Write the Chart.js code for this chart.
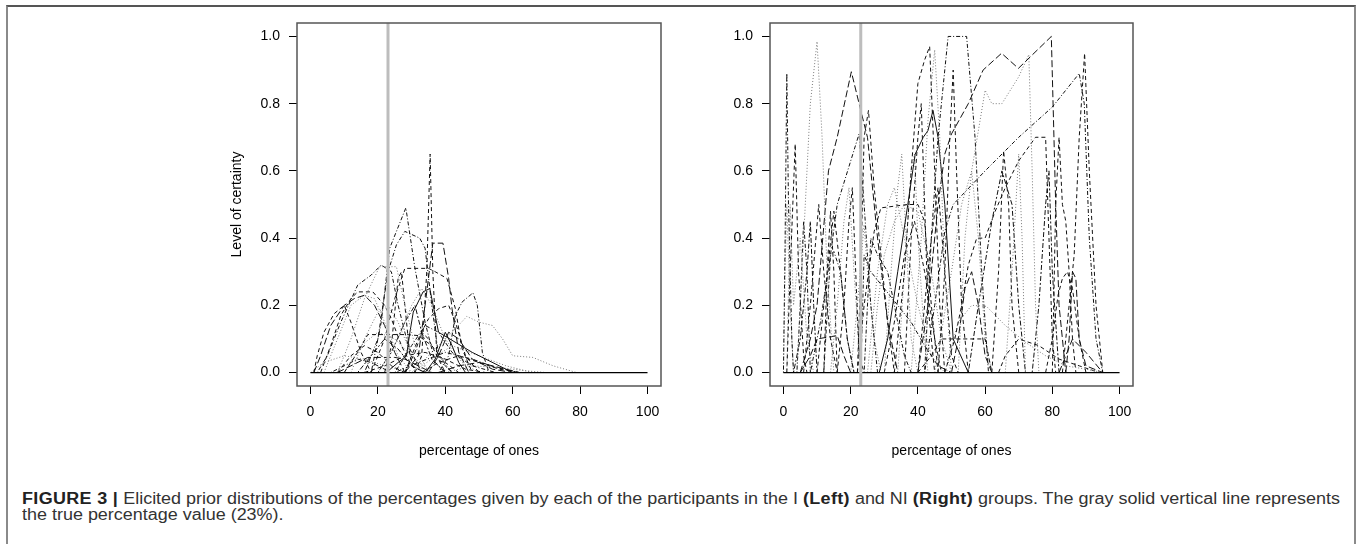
<!DOCTYPE html>
<html>
<head>
<meta charset="utf-8">
<script src="https://cdn.jsdelivr.net/npm/chart.js@4/dist/chart.umd.min.js"></script>
<style>
  html, body { margin: 0; padding: 0; background: #fff; }
  body { width: 1357px; height: 544px; position: relative; overflow: hidden; font-family: "Liberation Sans", Arial, sans-serif; }
  #frame { position: absolute; left: 6px; top: 5px; width: 1346px; height: 600px;
           border-left: 2px solid #8a8a8a; border-right: 2px solid #8a8a8a; border-top: 2px solid #555; }
  #left { position: absolute; left: 200px; top: 0; }
  #right { position: absolute; left: 673px; top: 0; }
  #caption { position: absolute; left: 22px; top: 491px; font-size: 16px; line-height: 16px; color: #333; white-space: nowrap; }
  #caption .line { display: inline-block; transform-origin: 0 0; }
  #caption b { color: #222; letter-spacing: 0.3px; }
</style>
</head>
<body>
<div id="frame"></div>
<canvas id="left" width="470" height="470"></canvas>
<canvas id="right" width="469" height="470"></canvas>
<div id="caption">
  <div><span class="line" id="cap1"><b>FIGURE 3 |</b> Elicited prior distributions of the percentages given by each of the participants in the I <b>(Left)</b> and NI <b>(Right)</b> groups. The gray solid vertical line represents</span></div>
  <div><span class="line" id="cap2">the true percentage value (23%).</span></div>
</div>
<script>
const xTicks = [0, 20, 40, 60, 80, 100]
const yTicks = [0, 0.2, 0.4, 0.6, 0.8, 1.0]
const trueValue = 23
const baseline = [[0, 0], [100, 0]]

// I group (left panel): each curve is a list of [percentage, certainty]
const leftCurves = [
    [[31,0],[33,0.05],[34.5,0.3],[35.5,0.65],[36.3,0.3],[37.5,0.05],[40,0]],
    [[18,0],[21,0.15],[23.5,0.37],[28.3,0.49],[31,0.31],[34,0.15],[37,0.03],[40,0]],
    [[16,0],[20,0.1],[23,0.3],[25.5,0.38],[28,0.42],[32.4,0.4],[34,0.37],[36,0.2],[38,0.05],[42,0]],
    [[28,0],[32,0.05],[34,0.2],[36.3,0.385],[39.3,0.385],[41,0.28],[42,0.19],[44,0.06],[47,0]],
    [[8,0],[12,0.1],[16,0.22],[20.5,0.315],[25.5,0.315],[28,0.2],[31,0.08],[35,0]],
    [[18,0],[22,0.1],[25,0.22],[28,0.31],[35,0.31],[37,0.3],[40.5,0.28],[43,0.19],[45,0.07],[48,0]],
    [[3,0],[6,0.08],[9,0.17],[12,0.22],[14,0.24],[18.5,0.24],[22,0.2],[24,0.16],[27,0.08],[30,0.02],[34,0]],
    [[1,0],[3,0.05],[6,0.14],[10,0.2],[13,0.22],[16,0.23],[19,0.2],[22,0.14],[25,0.06],[28,0]],
    [[1,0],[2,0.05],[4,0.12],[7,0.175],[10,0.2],[12,0.15],[15,0.06],[18,0]],
    [[22.5,0],[26,0.03],[28.5,0.05],[29.5,0.12],[30.5,0.18],[33.4,0.24],[35.4,0.25],[38,0.12],[48,0.06],[56,0.02],[60,0]],
    [[34,0],[37,0.04],[40,0.12],[42,0.08],[44,0.03],[46,0]],
    [[38,0],[41,0.05],[43,0.17],[45,0.21],[48.2,0.237],[49.5,0.2],[51,0.06],[53,0]],
    [[30,0],[36,0.06],[42,0.12],[46.4,0.167],[50,0.15],[54,0.14],[57,0.1],[60,0.05],[66,0.045],[72,0.02],[79,0]],
    [[10,0],[14,0.06],[17,0.113],[28.5,0.113],[32,0.11],[36,0.08],[40,0.03],[44,0]],
    [[8,0],[12,0.02],[17,0.045],[25,0.045],[28,0.04],[32,0.02],[36,0]],
    [[2,0],[5,0.05],[9,0.15],[14,0.26],[18,0.29],[21,0.32],[24,0.3],[26,0.2],[29,0.08],[33,0]],
    [[4,0],[8,0.1],[12,0.2],[16,0.23],[19,0.22],[22,0.15],[26,0.05],[30,0]],
    [[25,0],[30,0.08],[34,0.14],[38,0.12],[42,0.06],[48,0.02],[55,0]],
    [[28,0],[32,0.1],[35,0.16],[38,0.19],[41,0.2],[43,0.15],[46,0.05],[50,0]],
    [[20,0],[26,0.1],[30,0.2],[33,0.25],[36,0.2],[40,0.1],[45,0.03],[50,0]],
    [[35,0],[38,0.05],[41,0.12],[44,0.1],[48,0.04],[54,0.01],[60,0]],
    [[8,0],[12,0.05],[16,0.08],[20,0.06],[24,0.02],[28,0]],
    [[25,0],[32,0.03],[40,0.06],[48,0.04],[55,0.015],[62,0]],
    [[14,0],[18,0.05],[22,0.1],[26,0.07],[30,0.02],[34,0]],
    [[30,0],[36,0.04],[42,0.08],[50,0.05],[58,0.02],[66,0]],
    [[33,0],[38,0.03],[44,0.05],[50,0.03],[56,0.01],[62,0]],
    [[22,0],[24,0.08],[26,0.28],[27,0.3],[28,0.2],[29.5,0.05],[31,0]],
    [[20,0],[24,0.06],[28,0.15],[31,0.2],[33,0.12],[36,0.04],[40,0]],
    [[10,0],[15,0.08],[20,0.12],[25,0.1],[30,0.05],[36,0]],
    [[0,0],[4,0.03],[10,0.05],[16,0.04],[22,0.02],[30,0]],
    [[16,0],[22,0.02],[28,0.05],[34,0.06],[40,0.04],[46,0.01],[52,0]],
    [[38,0],[44,0.02],[50,0.03],[56,0.015],[62,0]],
    [[6,0],[10,0.02],[14,0.04],[18,0.03],[24,0]],
    [[40,0],[48,0.02],[56,0.015],[64,0.005],[70,0]],
    [[28,0],[31,0.06],[33,0.12],[35,0.1],[38,0.04],[42,0]],
    [[12,0],[16,0.1],[20,0.18],[23,0.2],[26,0.15],[30,0.05],[34,0]]
]
const leftStyles = ['dash','dotdash','dotdash','longdash','dot','dash','dash','longdash','dash','solid',
    'solid','dotdash','dot','dash','longdash','dotdash','dot','dotdash','dash','dot',
    'longdash','dash','dotdash','twodash','dot','dash','dash','twodash','dot','dot',
    'dash','longdash','dotdash','dot','dash','dot']

// NI group (right panel)
const rightCurves = [
    [[0,0],[0.5,0.4],[1,0.89],[1.5,0.5],[2.5,0.1],[3,0]],
    [[1,0],[2,0.3],[3.5,0.68],[4.5,0.3],[6,0.05],[7,0]],
    [[4,0],[6,0.4],[8,0.8],[10,0.985],[11.5,0.7],[13,0.3],[15,0]],
    [[5,0],[8,0.1],[10,0.2],[13.4,0.6],[16,0.7],[20.2,0.895],[23,0.78],[25,0.7],[28,0.4],[31,0.15],[34,0]],
    [[8,0],[11,0.15],[14,0.35],[16,0.5],[22.5,0.71],[24,0.5],[26,0.2],[28,0]],
    [[22,0],[23,0.3],[24,0.7],[25.3,0.78],[27,0.55],[29,0.35],[31,0.15],[33,0]],
    [[16,0],[18,0.2],[19.5,0.45],[20.5,0.55],[21.5,0.3],[22.5,0.05],[24,0]],
    [[1,0],[2,0.5],[3,0.2],[5,0.4],[7,0.1],[9,0]],
    [[6,0],[8,0.2],[10.5,0.5],[12,0.3],[14,0.1],[16,0]],
    [[10,0],[12,0.2],[15,0.48],[17,0.3],[19,0.1],[21,0]],
    [[5,0],[8,0.05],[10,0.1],[16,0.11],[18,0.05],[20,0]],
    [[33,0],[36,0.3],[38,0.6],[40,0.86],[42,0.93],[43.5,0.97],[45,0.6],[46.5,0.2],[48,0]],
    [[38,0],[41,0.4],[43,0.75],[45,0.96],[46.5,0.7],[48,0.3],[50,0]],
    [[42,0],[44,0.4],[46,0.7],[49,1],[54.5,1],[57,0.7],[59,0.3],[61,0]],
    [[28.5,0],[31,0.1],[34,0.3],[37,0.5],[39.2,0.65],[41.6,0.7],[43,0.72],[44.5,0.78],[46,0.7],[48,0.5],[50.5,0.1],[55,0]],
    [[40,0],[43,0.2],[46,0.5],[48,0.65],[50,0.71],[55,0.8],[59.4,0.9],[64.9,0.95],[69.9,0.905],[79.7,1],[81,0.5],[82,0.2],[84,0]],
    [[45,0],[50,0.3],[53,0.5],[56,0.6],[60,0.84],[62,0.8],[65,0.8],[70,0.88],[73,0.946],[74,0.6],[75,0.2],[76,0]],
    [[42,0],[45,0.2],[48,0.42],[50.5,0.5],[60,0.6],[70,0.7],[80,0.79],[88,0.89],[89.5,0.8],[91,0.4],[93,0.1],[95,0]],
    [[83,0],[85,0.2],[86.5,0.35],[88,0.7],[89.6,0.95],[91,0.6],[93,0.2],[95,0]],
    [[48,0],[51,0.1],[53,0.2],[55,0.32],[57.5,0.4],[60,0.4],[63,0.48],[66,0.55],[70,0.63],[75,0.7],[78,0.7],[79,0.4],[80,0.1],[81,0]],
    [[78,0],[80,0.1],[81.7,0.23],[83,0.28],[84.5,0.3],[86,0.25],[88,0.1],[90,0]],
    [[82,0],[84,0.05],[86,0.1],[90,0.06],[95,0]],
    [[48,0],[52,0.15],[56,0.2],[60.4,0.197],[66,0.14],[72,0.09],[78,0.05],[84,0.02],[90,0.01],[95,0]],
    [[46,0],[48,0.3],[49.5,0.7],[50.5,0.9],[51.5,0.6],[53,0.2],[55,0]],
    [[66,0],[68,0.3],[70,0.65],[71,0.4],[72,0]],
    [[62,0],[64,0.3],[65.5,0.66],[67,0.5],[68,0.2],[70,0]],
    [[80,0],[81,0.5],[82,0.7],[83,0.5],[84,0.45],[85,0.3],[86,0.1],[87,0]],
    [[22,0],[24,0.2],[27,0.42],[29,0.49],[37,0.5],[40,0.5],[42,0.45],[44,0.2],[46,0]],
    [[30,0],[32,0.3],[34,0.55],[35.2,0.65],[36.5,0.4],[38,0.1],[40,0]],
    [[23,0],[24,0.35],[26,0.3],[30,0.25],[34,0.2],[38,0.15],[42,0.08],[46,0.02],[50,0]],
    [[40,0],[44,0.05],[47,0.1],[52,0.1],[57,0.1],[60,0.1],[62,0]],
    [[0,0],[0.5,0.3],[1,0.5],[2,0.2],[3,0]],
    [[3,0],[5,0.1],[7,0.3],[8,0.45],[9,0.2],[10,0]],
    [[14,0],[16,0.2],[18,0.45],[19.5,0.55],[21,0.3],[23,0]],
    [[36,0],[38,0.4],[40,0.7],[41,0.8],[42,0.5],[43,0.2],[45,0]],
    [[12,0],[14,0.35],[15,0.36],[17,0.3],[19,0.1],[21,0]],
    [[25,0],[28,0.3],[31,0.5],[33,0.55],[36,0.4],[40,0.2],[44,0.05],[48,0]],
    [[55,0],[58,0.2],[62,0.45],[65,0.6],[68,0.5],[70,0.2],[72,0]],
    [[84,0],[85,0.1],[86,0.3],[87,0.28],[88,0.1],[90,0.02],[95,0]],
    [[26,0],[28,0.2],[30,0.35],[33,0.45],[36,0.5],[40,0.48],[44,0.3],[47,0.1],[50,0]],
    [[30,0],[33,0.15],[36,0.35],[39,0.45],[42,0.3],[45,0.1],[47,0]],
    [[24,0],[26,0.4],[28,0.35],[31,0.3],[33,0.2],[36,0.05],[38,0]],
    [[34,0],[36,0.3],[38,0.6],[39,0.65],[40,0.4],[42,0.1],[43,0]],
    [[40,0],[42,0.2],[44,0.4],[46,0.55],[48,0.3],[50,0.05],[52,0]],
    [[50,0],[52,0.1],[54,0.25],[56,0.3],[58,0.2],[60,0.05],[62,0]],
    [[52,0],[54,0.4],[56,0.6],[58,0.4],[60,0.1],[62,0]],
    [[12,0],[13,0.3],[14,0.48],[15,0.3],[16,0]],
    [[4,0],[5,0.2],[6,0.45],[7,0.3],[8,0]],
    [[20,0],[22,0.2],[24,0.44],[25,0.3],[27,0.1],[29,0]],
    [[64,0],[66,0.05],[70,0.1],[76,0.08],[82,0.04],[88,0.02],[94,0]],
    [[74,0],[76,0.2],[78,0.5],[79,0.6],[80,0.3],[82,0]]
]
const rightStyles = ['dotdash','dash','dot','longdash','dotdash','dash','dash','dot','dash','dash',
    'longdash','dash','dot','dotdash','solid','longdash','dot','dotdash','dash','dash',
    'dash','longdash','dot','dash','dot','dash','dash','dash','dot','dotdash',
    'dash','dot','twodash','dot','dash','dotdash','dot','twodash','longdash','dot',
    'dash','dotdash','dot','dash','longdash','dot','dash','dotdash','dot','dash',
    'twodash']

const dashes = {
    solid: [], dash: [4, 3], dot: [1, 2], dotdash: [1, 2, 4, 2], longdash: [7, 3], twodash: [2, 2, 5, 2]
}
const font = {family: '"Liberation Sans", Arial, sans-serif', size: 14}

const boxPlugin = {
    id: 'box',
    afterDraw(chart) {
        const {ctx, chartArea: a} = chart
        ctx.save()
        ctx.strokeStyle = '#555'
        ctx.lineWidth = 1.5
        ctx.strokeRect(a.left, a.top, a.right - a.left, a.bottom - a.top)
        ctx.restore()
    }
}

function toPoints(pts) {
    return pts.map(p => ({x: p[0], y: p[1]}))
}

function buildDatasets(curves, styles) {
    const sets = [
        {data: toPoints([[trueValue, -0.04], [trueValue, 1.04]]), borderColor: '#bdbdbd', borderWidth: 3},
        {data: toPoints(baseline), borderColor: '#000', borderWidth: 1.2}
    ]
    curves.forEach((c, i) => {
        const s = styles[i]
        sets.push({
            data: toPoints(c),
            borderColor: s === 'dot' ? '#7a7a7a' : '#111',
            borderWidth: 1,
            borderDash: dashes[s]
        })
    })
    return sets
}

function makeChart(id, curves, styles, yTitle) {
    const ctx = document.getElementById(id).getContext('2d')
    return new Chart(ctx, {
        type: 'line',
        data: {datasets: buildDatasets(curves, styles)},
        plugins: [boxPlugin],
        options: {
            responsive: false,
            animation: false,
            devicePixelRatio: 1,
            layout: {padding: {top: 23, right: 9, left: 0, bottom: 0}},
            elements: {point: {radius: 0}, line: {tension: 0}},
            plugins: {legend: {display: false}, tooltip: {enabled: false}},
            scales: {
                x: {
                    type: 'linear', min: -4, max: 104,
                    afterBuildTicks: s => { s.ticks = xTicks.map(v => ({value: v})) },
                    afterFit: s => { s.height = 84 },
                    ticks: {font: font, color: '#000', padding: 10, maxRotation: 0, callback: v => String(v)},
                    grid: {drawOnChartArea: false, tickLength: 8, color: '#000', lineWidth: 1},
                    border: {display: false},
                    title: {display: true, text: 'percentage of ones', font: font, color: '#000', padding: {top: 0, bottom: 10.6}}
                },
                y: {
                    type: 'linear', min: -0.04, max: 1.04,
                    afterBuildTicks: s => { s.ticks = yTicks.map(v => ({value: v})) },
                    afterFit: s => { s.width = 97 },
                    ticks: {font: font, color: '#000', padding: 9, callback: v => v.toFixed(1)},
                    grid: {drawOnChartArea: false, tickLength: 8, color: '#000', lineWidth: 1},
                    border: {display: false},
                    title: {display: !!yTitle, text: yTitle || '', font: font, color: '#000', padding: {top: 28.6, bottom: 0}}
                }
            }
        }
    })
}

makeChart('left', leftCurves, leftStyles, 'Level of certainty')
makeChart('right', rightCurves, rightStyles, null)

// caption font is wider than Liberation Sans: stretch both lines so line one spans the frame
const cap1 = document.getElementById('cap1')
const cap2 = document.getElementById('cap2')
const k = 1318 / cap1.getBoundingClientRect().width
cap1.style.transform = 'scaleX(' + k + ')'
cap2.style.transform = 'scaleX(' + k + ')'
</script>
</body>
</html>
